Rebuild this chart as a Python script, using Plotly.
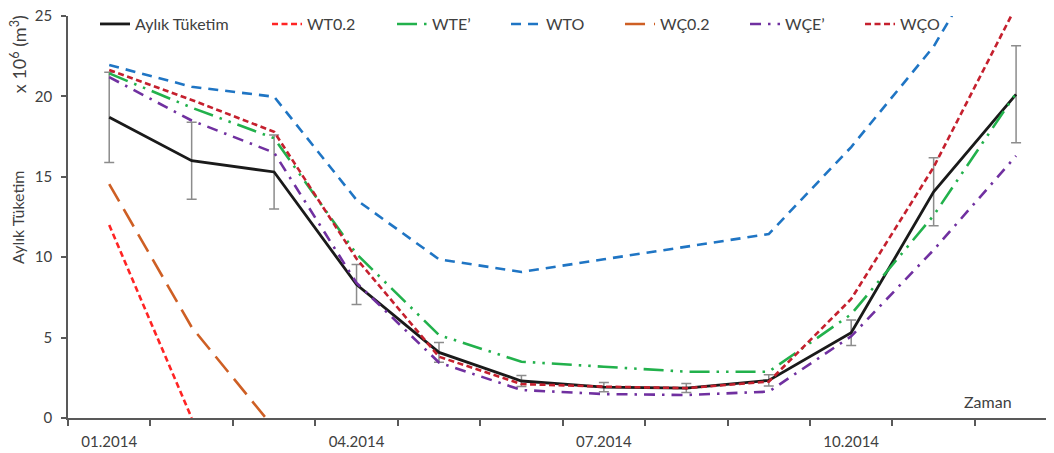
import plotly.graph_objects as go

months = ["01.2014", "02.2014", "03.2014", "04.2014", "05.2014", "06.2014",
          "07.2014", "08.2014", "09.2014", "10.2014", "11.2014", "12.2014"]
x_idx = list(range(len(months)))

aylik = [18.7, 16.0, 15.3, 8.3, 4.08, 2.3, 1.92, 1.86, 2.34, 5.3, 14.07, 20.13]
wt02 = [12.0, 0.0, None, None, None, None, None, None, None, None, None, None]
wte = [21.43, 19.3, 17.4, 10.2, 5.16, 3.5, 3.19, 2.88, 2.88, 6.45, 12.6, 20.2]
wto = [21.95, 20.6, 19.98, 13.56, 9.87, 9.08, 9.87, 10.65, 11.44, 16.85, 23.1, 31.8]
wc02 = [14.55, 5.65, -0.63, None, None, None, None, None, None, None, None, None]
wce = [21.2, 18.5, 16.5, 8.4, 3.45, 1.74, 1.49, 1.43, 1.64, 5.08, 10.45, 16.3]
wco = [21.64, 19.78, 17.8, 9.9, 3.81, 2.11, 1.95, 1.86, 2.26, 7.4, 15.6, 25.6]
err_pct = 15

tick_idx = [0, 3, 6, 9]

FONT = "Lato, 'Open Sans', sans-serif"
TXT = "#404040"
AX = "#595959"

# name, values, color, dash, width, legend entry width
series = [
    ("Aylık Tüketim", aylik, "#1a1a1a", "solid", 2.8, 127),
    ("WT0.2", wt02, "#FF2424", "6px,3.5px", 2.6, 80),
    ("WTE’", wte, "#22B14C", "20px,7px,2.5px,7px,2.5px,7px", 2.6, 69),
    ("WTO", wto, "#1F75C4", "10px,7px", 2.6, 69),
    ("WÇ0.2", wc02, "#CE5F24", "20px,9px", 2.6, 80),
    ("WÇE’", wce, "#7030A0", "11px,7px,2.5px,7px", 2.6, 70),
    ("WÇO", wco, "#C5202E", "6px,3.5px", 2.6, 45),
]

fig = go.Figure()
for name, vals, color, dash, w, lw in series:
    kw = {}
    if name == "Aylık Tüketim":
        kw["error_y"] = dict(type="percent", value=err_pct, color="#8c8c8c",
                             thickness=1.5, width=5)
    fig.add_trace(go.Scatter(x=x_idx, y=vals, name=name, mode="lines",
                             line=dict(color=color, dash=dash, width=w),
                             legendwidth=lw, connectgaps=False, **kw))

fig.update_layout(
    width=1046, height=445,
    margin=dict(l=60, r=0, t=8, b=35, autoexpand=False),
    paper_bgcolor="white", plot_bgcolor="white",
    font=dict(family=FONT, size=15, color=TXT),
    showlegend=True,
    legend=dict(orientation="h", x=0.0274, xanchor="left", y=0.98, yanchor="middle",
                bgcolor="rgba(0,0,0,0)", font=dict(size=16, color=TXT),
                itemwidth=30, borderwidth=0),
    xaxis=dict(range=[-0.5, 11.46], showgrid=False, zeroline=False,
               showline=True, linecolor=AX, linewidth=1.5, automargin=False,
               tickmode="array", tickvals=tick_idx,
               ticktext=[months[i] for i in tick_idx],
               ticks="", tickfont=dict(size=15, color=TXT), ticklabelstandoff=9,
               ticklabeloverflow="allow",
               minor=dict(tickmode="array",
                          tickvals=[i - 0.5 for i in range(len(months) + 1)],
                          ticks="outside", ticklen=6, tickcolor=AX, tickwidth=1.5,
                          showgrid=False)),
    yaxis=dict(range=[0, 25], showgrid=False, zeroline=False,
               showline=True, linecolor=AX, linewidth=1.5, automargin=False,
               tickvals=[0, 5, 10, 15, 20, 25], ticks="outside", ticklen=5,
               tickcolor=AX, tickwidth=1.5, tickfont=dict(size=15, color=TXT),
               ticklabelstandoff=6, ticklabeloverflow="allow"),
    annotations=[
        dict(text="Aylık Tüketim", xref="paper", yref="paper", x=-0.0517, y=0.5,
             textangle=-90, showarrow=False, xanchor="center", yanchor="middle",
             font=dict(size=16, color=TXT)),
        dict(text="x 10<sup>6</sup> (m<sup>3</sup>)", xref="paper", yref="paper",
             x=-0.0497, y=0.905, textangle=-90, showarrow=False,
             xanchor="center", yanchor="middle", font=dict(size=18, color=TXT)),
        dict(text="Zaman", xref="paper", yref="paper", x=0.933, y=0.042,
             showarrow=False, xanchor="center", yanchor="middle",
             font=dict(size=16, color=TXT)),
    ],
)

fig.write_html("out.html")
